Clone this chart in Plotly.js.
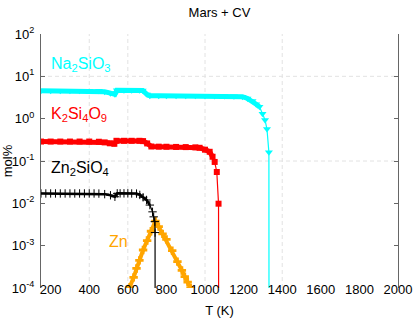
<!DOCTYPE html>
<html>
<head>
<meta charset="utf-8">
<script src="https://cdn.plot.ly/plotly-3.0.1.min.js"></script>
<style>
  html, body { margin: 0; padding: 0; background: #fff; }
  #plot { width: 415px; height: 323px; }
</style>
</head>
<body>
<div id="plot"></div>
<script>
    // Na2SiO3 (cyan)
    var naT = [150, 200, 250, 300, 350, 400, 450, 480, 510, 533, 543, 580, 620, 660, 677, 700, 714, 760, 800, 850, 900, 950, 1000, 1050, 1100, 1150, 1194, 1220, 1246, 1265, 1282, 1298, 1311, 1321, 1331, 1332];
    var naY = [4.58, 4.58, 4.58, 4.58, 4.58, 4.58, 4.55, 4.3, 4.0, 3.75, 4.7, 4.7, 4.7, 4.7, 4.65, 3.7, 3.5, 3.5, 3.5, 3.5, 3.48, 3.48, 3.45, 3.45, 3.42, 3.4, 3.3, 3.0, 2.6, 2.2, 1.9, 1.3, 0.93, 0.57, 0.16, 1e-8];
    var naBand = 31;

    // K2Si4O9 (red)
    var kT = [150, 200, 250, 300, 350, 400, 450, 480, 507, 530, 541, 580, 620, 660, 679, 700, 722, 760, 800, 850, 900, 950, 972, 1000, 1024, 1039, 1050, 1061, 1070, 1071];
    var kY = [0.288, 0.288, 0.288, 0.288, 0.288, 0.288, 0.285, 0.275, 0.262, 0.255, 0.30, 0.30, 0.30, 0.30, 0.295, 0.26, 0.22, 0.218, 0.217, 0.215, 0.213, 0.21, 0.205, 0.185, 0.165, 0.126, 0.095, 0.055, 0.0098, 1e-8];
    var kBand = 26;

    // Zn2SiO4 (black)
    var zT = [150, 175, 200, 225, 250, 275, 300, 325, 350, 375, 400, 425, 450, 480, 510, 533, 545, 560, 580, 600, 620, 645, 662, 679, 697, 714, 728, 734, 740, 741, 742];
    var zY = [0.0171, 0.0171, 0.0171, 0.0171, 0.0171, 0.0171, 0.0171, 0.0171, 0.0171, 0.0171, 0.0171, 0.0171, 0.017, 0.0165, 0.0155, 0.0143, 0.0172, 0.0172, 0.0172, 0.0172, 0.0171, 0.017, 0.0158, 0.0139, 0.012, 0.0091, 0.0063, 0.0048, 0.0037, 0.00204, 1e-8];
    var zBand = 26;

    // Zn (orange)
    var znT = [598, 610, 630, 645, 660, 679, 700, 720, 743, 760, 780, 800, 830, 857, 880, 895, 910, 925, 930];
    var znY = [8.9e-5, 1.05e-4, 1.78e-4, 2.9e-4, 4.5e-4, 7.9e-4, 1.32e-3, 2.19e-3, 3.8e-3, 2.82e-3, 1.9e-3, 1.41e-3, 7.6e-4, 4.2e-4, 2.6e-4, 1.86e-4, 1.38e-4, 1.0e-4, 8.9e-5];

    var xTicks = [200, 400, 600, 800, 1000, 1200, 1400, 1600, 1800, 2000];
    var yTicks = [1e-4, 1e-3, 1e-2, 1e-1, 1, 10, 100];
    var yTickText = ['10<sup>-4</sup>', '10<sup>-3</sup>', '10<sup>-2</sup>', '10<sup>-1</sup>', '10<sup>0</sup>', '10<sup>1</sup>', '10<sup>2</sup>'];
    var xGrid = [400, 600, 1000, 1400];
    var yGrid = [10, 0.1];

    var font = 'Liberation Sans, Arial, sans-serif';

    var traces = [
        { x: znT, y: znY, mode: 'lines+markers', line: { color: '#ffa500', width: 4 },
          marker: { symbol: 'cross', size: 7, color: '#ffa500' } },
        { x: zT, y: zY, mode: 'lines+markers', line: { color: '#000', width: 1.2 },
          marker: { symbol: 'cross-thin-open', size: 6, color: '#000', line: { width: 1, color: '#000' } } },
        { x: zT.slice(0, zBand), y: zY.slice(0, zBand), mode: 'lines', line: { color: '#000', width: 2.5 } },
        { x: kT, y: kY, mode: 'lines+markers', line: { color: '#ff0000', width: 1.2 },
          marker: { symbol: 'square', size: 6, color: '#ff0000' } },
        { x: kT.slice(0, kBand), y: kY.slice(0, kBand), mode: 'lines', line: { color: '#ff0000', width: 5 } },
        { x: naT, y: naY, mode: 'lines+markers', line: { color: '#00ffff', width: 1.2 },
          marker: { symbol: 'triangle-down', size: 7, color: '#00ffff' } },
        { x: naT.slice(0, naBand), y: naY.slice(0, naBand), mode: 'lines', line: { color: '#00ffff', width: 5 } }
    ];

    // light dashed grid, only where the original has it
    var shapes = [];
    xGrid.forEach(function (v) {
        shapes.push({ type: 'line', xref: 'x', yref: 'paper', x0: v, x1: v, y0: 0, y1: 1, layer: 'below',
            line: { color: '#e2e2e2', width: 1, dash: '4px,3px' } });
    });
    yGrid.forEach(function (v) {
        shapes.push({ type: 'line', xref: 'paper', yref: 'y', x0: 0, x1: 1, y0: v, y1: v, layer: 'below',
            line: { color: '#e2e2e2', width: 1, dash: '4px,3px' } });
    });

    var lab = { xref: 'x', yref: 'y', xanchor: 'left', yanchor: 'middle', showarrow: false };
    var annotations = [
        Object.assign({}, lab, { x: 190, y: 1.29, text: 'Na<sub>2</sub>SiO<sub>3</sub>', font: { family: font, size: 16, color: '#00ffff' } }),
        Object.assign({}, lab, { x: 190, y: 0.11, text: 'K<sub>2</sub>Si<sub>4</sub>O<sub>9</sub>', font: { family: font, size: 16, color: '#ff0000' } }),
        Object.assign({}, lab, { x: 190, y: -1.17, text: 'Zn<sub>2</sub>SiO<sub>4</sub>', font: { family: font, size: 16, color: '#000' } }),
        Object.assign({}, lab, { x: 490, y: -2.91, text: 'Zn', font: { family: font, size: 16, color: '#ffa500' } })
    ];

    var layout = {
        width: 415,
        height: 323,
        margin: { l: 41, r: 17, t: 34, b: 35 },
        paper_bgcolor: '#fff',
        plot_bgcolor: '#fff',
        showlegend: false,
        font: { family: font, size: 13, color: '#000' },
        title: { text: 'Mars + CV', x: 0.5, xref: 'paper', y: 0.963, yanchor: 'middle', font: { family: font, size: 13 } },
        xaxis: {
            range: [150, 2000],
            tickvals: xTicks,
            ticks: '',
            showgrid: false,
            zeroline: false,
            showline: false,
            ticklabelstandoff: -8,
            title: { text: 'T (K)', standoff: 9, font: { family: font, size: 13 } }
        },
        yaxis: {
            type: 'log',
            range: [-4, 2],
            tickvals: yTicks,
            ticktext: yTickText,
            ticks: 'inside',
            ticklen: 4,
            tickcolor: '#666',
            showline: true,
            linecolor: '#666',
            mirror: 'ticks',
            showgrid: false,
            zeroline: false,
            ticklabelstandoff: 3,
            title: { text: 'mol%', standoff: 2, font: { family: font, size: 13 } }
        },
        shapes: shapes,
        annotations: annotations
    };

    Plotly.newPlot('plot', traces, layout, { staticPlot: true });
</script>
</body>
</html>
